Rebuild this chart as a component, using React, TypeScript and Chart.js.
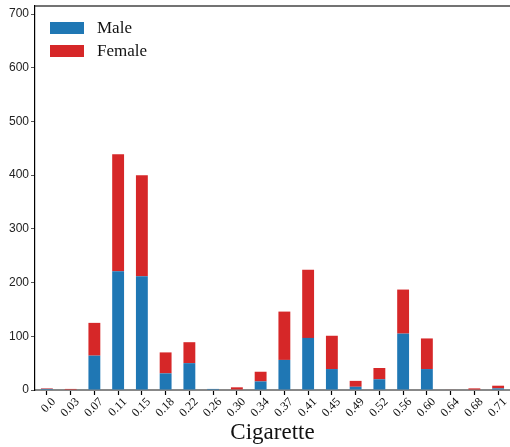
import React, { useEffect, useRef } from "react";
import { Chart, registerables } from "chart.js";

Chart.register(...registerables);

const categories = ["0.0", "0.03", "0.07", "0.11", "0.15", "0.18", "0.22", "0.26", "0.30", "0.34", "0.37", "0.41", "0.45", "0.49", "0.52", "0.56", "0.60", "0.64", "0.68", "0.71"];
const maleValues = [2, 0, 64, 221, 212, 31, 50, 2, 1, 16, 56, 97, 39, 6, 20, 105, 39, 0, 0, 3];
const femaleValues = [1, 2, 61, 218, 188, 39, 39, 0, 4, 18, 90, 127, 62, 11, 21, 82, 57, 1, 3, 5];
const yTicks = [0, 100, 200, 300, 400, 500, 600, 700];

const MALE = "#1f77b4";
const FEMALE = "#d62728";
const SERIF = "'Liberation Serif', 'DejaVu Serif', serif";
const SANS = "'Liberation Sans', Arial, sans-serif";

const legendPlugin = {
  id: "insideLegend",
  afterDraw(chart: any) {
    const ctx = chart.ctx;
    const area = chart.chartArea;
    ctx.save();
    chart.data.datasets.forEach((ds: any, i: number) => {
      const x = area.left + 15;
      const y = area.top + 16 + i * 23;
      ctx.fillStyle = ds.backgroundColor;
      ctx.fillRect(x, y, 34, 12);
      ctx.fillStyle = "#111";
      ctx.font = `17px ${SERIF}`;
      ctx.textBaseline = "middle";
      ctx.textAlign = "left";
      ctx.fillText(ds.label, x + 47, y + 6.5);
    });
    // top spine
    ctx.strokeStyle = "#444";
    ctx.lineWidth = 1.5;
    ctx.beginPath();
    ctx.moveTo(area.left, area.top);
    ctx.lineTo(area.right, area.top);
    ctx.stroke();
    ctx.restore();
  },
};

export default function App() {
  const ref = useRef<HTMLCanvasElement | null>(null);
  useEffect(() => {
    if (!ref.current) return;
    const chart = new Chart(ref.current, {
      type: "bar",
      data: {
        labels: categories,
        datasets: [
          { label: "Male", data: maleValues, backgroundColor: MALE, barPercentage: 0.5, categoryPercentage: 1 },
          { label: "Female", data: femaleValues, backgroundColor: FEMALE, barPercentage: 0.5, categoryPercentage: 1 },
        ],
      },
      options: {
        animation: false,
        responsive: false,
        maintainAspectRatio: false,
        layout: { padding: { top: 6, right: 0, left: 0, bottom: 0 } },
        plugins: { legend: { display: false }, tooltip: { enabled: false } },
        scales: {
          x: {
            stacked: true,
            afterFit(scale: any) {
              scale.height = 57;
              scale.paddingLeft = 0;
              scale.paddingRight = 0;
            },
            grid: { display: true, drawOnChartArea: false, offset: false, tickLength: 5, color: "#000", tickWidth: 1.2 },
            border: { display: true, color: "#888", width: 2 },
            ticks: {
              color: "#111",
              font: { family: SERIF, size: 12 },
              maxRotation: 45,
              minRotation: 45,
              autoSkip: false,
              padding: 0,
              labelOffset: 7,
            },
            title: {
              display: true,
              text: "Cigarette",
              color: "#111",
              font: { family: SERIF, size: 23 },
              padding: { top: 0, bottom: 0 },
            },
          },
          y: {
            stacked: true,
            min: 0,
            max: 715,
            afterBuildTicks(scale: any) {
              scale.ticks = yTicks.map((v) => ({ value: v }));
            },
            afterFit(scale: any) {
              scale.width = 35;
              scale.paddingTop = 0;
              scale.paddingBottom = 0;
            },
            grid: { display: true, drawOnChartArea: false, tickLength: 4, color: "#555", tickWidth: 1 },
            border: { display: true, color: "#000", width: 1.2 },
            ticks: { color: "#222", font: { family: SANS, size: 12 }, padding: 2 },
          },
        },
      },
      plugins: [legendPlugin],
    });
    return () => chart.destroy();
  }, []);
  return (
    <div style={{ position: "fixed", left: 0, top: 0, width: 510, height: 447, background: "#fff" }}>
      <canvas ref={ref} width={510} height={447} style={{ width: 510, height: 447 }} />
    </div>
  );
}
